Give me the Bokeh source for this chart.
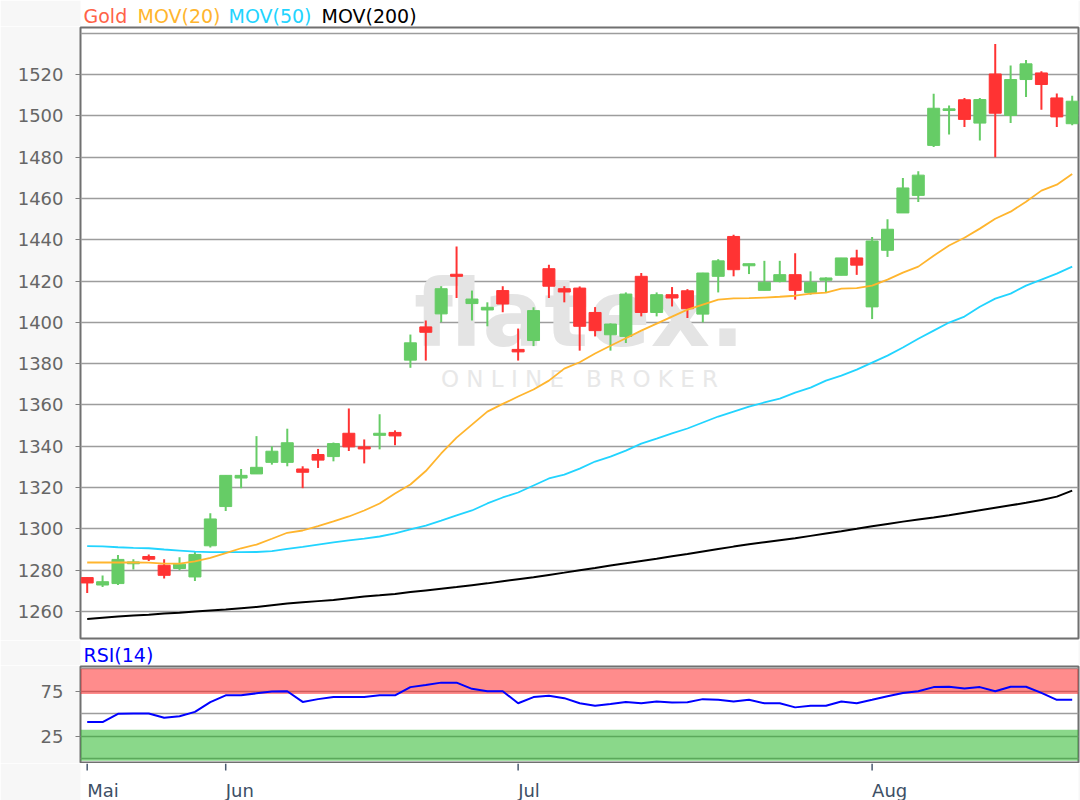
from bokeh.plotting import figure
from bokeh.layouts import column
from bokeh.models import Range1d, FixedTicker, BoxAnnotation, ColumnDataSource
from bokeh.core.properties import value
from bokeh.embed import file_html
from bokeh.resources import INLINE

# ---------------- data ----------------
opens = [1276.4, 1272.8, 1273.5, 1283.1, 1286.6, 1282.4, 1280.8, 1276.7, 1291.8, 1310.8,
         1324.6, 1326.6, 1332.2, 1332.2, 1329.0, 1336.0, 1335.0, 1346.3, 1339.7, 1345.3,
         1346.7, 1381.7, 1397.8, 1404.1, 1423.3, 1409.1, 1406.0, 1415.4, 1386.9, 1391.2,
         1426.0, 1416.3, 1416.6, 1404.8, 1394.0, 1393.2, 1422.3, 1404.8, 1413.4, 1415.3,
         1404.0, 1422.3, 1441.6, 1427.4, 1415.5, 1419.8, 1423.1, 1414.5, 1420.4, 1422.8,
         1431.2, 1407.5, 1434.9, 1453.0, 1461.5, 1485.7, 1502.6, 1507.8, 1496.5, 1520.3,
         1500.2, 1517.6, 1520.8, 1508.7, 1496.2]
highs = [1276.6, 1277.4, 1287.3, 1285.3, 1287.6, 1285.3, 1286.3, 1288.9, 1307.6, 1326.0,
         1329.0, 1344.9, 1340.0, 1348.5, 1330.3, 1338.7, 1341.8, 1358.3, 1343.3, 1355.5,
         1347.7, 1394.1, 1400.9, 1417.5, 1436.8, 1415.4, 1409.7, 1417.5, 1397.0, 1407.3,
         1427.9, 1417.5, 1417.4, 1407.4, 1399.5, 1414.5, 1423.9, 1414.5, 1417.1, 1416.1,
         1424.0, 1430.6, 1442.4, 1428.4, 1429.8, 1429.8, 1433.5, 1424.7, 1421.8, 1431.2,
         1435.2, 1441.4, 1449.9, 1469.9, 1473.2, 1510.7, 1505.0, 1508.6, 1508.6, 1534.8,
         1524.4, 1527.1, 1521.6, 1510.8, 1509.7]
lows = [1268.9, 1271.9, 1272.8, 1280.3, 1284.4, 1275.9, 1280.0, 1274.8, 1291.0, 1308.7,
        1319.7, 1326.6, 1331.1, 1330.3, 1319.7, 1329.5, 1332.7, 1337.7, 1331.7, 1338.5,
        1340.5, 1378.0, 1381.5, 1400.1, 1411.8, 1400.9, 1398.1, 1404.9, 1381.5, 1388.5,
        1411.8, 1409.7, 1386.3, 1393.2, 1386.3, 1390.0, 1402.9, 1402.9, 1407.7, 1402.1,
        1400.0, 1414.5, 1422.3, 1423.4, 1415.5, 1419.4, 1411.0, 1413.4, 1414.6, 1422.8,
        1423.0, 1401.6, 1431.7, 1453.0, 1458.3, 1484.9, 1491.0, 1494.6, 1488.1, 1480.0,
        1496.5, 1509.2, 1503.0, 1494.6, 1495.5]
closes = [1273.8, 1274.4, 1285.2, 1284.0, 1285.3, 1277.5, 1282.9, 1287.6, 1304.8, 1325.9,
          1325.9, 1329.8, 1337.6, 1341.7, 1327.4, 1333.3, 1341.3, 1339.7, 1338.7, 1346.3,
          1345.0, 1390.1, 1395.2, 1416.3, 1422.3, 1411.3, 1407.3, 1408.9, 1385.7, 1405.7,
          1417.5, 1414.7, 1398.1, 1396.0, 1399.2, 1413.7, 1404.8, 1413.4, 1411.8, 1406.6,
          1423.9, 1429.8, 1425.5, 1428.4, 1419.4, 1423.1, 1415.5, 1419.4, 1421.5, 1431.2,
          1427.7, 1439.4, 1445.1, 1465.1, 1471.3, 1503.7, 1503.4, 1498.3, 1507.9, 1501.3,
          1517.6, 1525.2, 1515.2, 1499.5, 1507.1]
ma20 = [1283.7, 1283.7, 1283.7, 1283.7, 1283.6, 1283.2, 1283.2, 1284.2, 1286.0, 1288.2,
        1290.6, 1292.4, 1295.2, 1298.1, 1299.2, 1301.3, 1303.6, 1306.0, 1308.9, 1312.3,
        1317.1, 1321.5, 1328.0, 1336.5, 1344.2, 1350.5, 1356.8, 1360.5, 1364.1, 1367.5,
        1371.8, 1377.6, 1380.7, 1384.9, 1388.7, 1392.3, 1396.0, 1399.4, 1402.8, 1406.2,
        1408.6, 1411.0, 1411.6, 1411.7, 1412.0, 1412.4, 1412.9, 1413.9, 1414.4, 1416.3,
        1416.6, 1417.8, 1420.7, 1424.1, 1427.0, 1432.3, 1437.2, 1441.0, 1445.4, 1450.2,
        1453.6, 1458.4, 1463.8, 1466.7, 1471.9]
ma50 = [1291.6, 1291.5, 1291.1, 1290.8, 1290.6, 1290.0, 1289.5, 1289.0, 1288.7, 1288.7,
        1288.7, 1288.8, 1289.2, 1290.3, 1291.3, 1292.4, 1293.4, 1294.4, 1295.3, 1296.3,
        1297.8, 1299.7, 1301.6, 1304.0, 1306.5, 1308.9, 1312.3, 1315.2, 1317.6, 1321.0,
        1324.4, 1326.3, 1329.2, 1332.6, 1335.0, 1337.9, 1341.3, 1343.7, 1346.2, 1348.6,
        1351.5, 1354.4, 1356.8, 1359.2, 1361.2, 1363.1, 1366.0, 1368.4, 1371.8, 1374.2,
        1377.1, 1380.5, 1383.9, 1387.8, 1392.1, 1396.0, 1399.9, 1402.8, 1407.6, 1411.5,
        1413.9, 1417.8, 1420.7, 1423.6, 1427.0]
ma200 = [1256.4, 1257.0, 1257.6, 1258.0, 1258.4, 1259.0, 1259.4, 1260.0, 1260.5, 1261.0,
         1261.6, 1262.2, 1263.0, 1263.8, 1264.4, 1265.0, 1265.6, 1266.4, 1267.2, 1267.8,
         1268.5, 1269.4, 1270.2, 1271.0, 1271.8, 1272.7, 1273.6, 1274.6, 1275.6, 1276.6,
         1277.7, 1278.8, 1280.0, 1281.0, 1282.2, 1283.3, 1284.4, 1285.5, 1286.7, 1287.8,
         1289.0, 1290.2, 1291.4, 1292.5, 1293.5, 1294.5, 1295.5, 1296.6, 1297.7, 1298.8,
         1300.0, 1301.3, 1302.4, 1303.5, 1304.5, 1305.5, 1306.6, 1307.8, 1309.0, 1310.2,
         1311.4, 1312.6, 1314.0, 1315.6, 1318.5]
rsi14 = [40.6, 40.6, 49.8, 50.1, 50.1, 45.5, 47.1, 52.0, 62.8, 70.4,
         70.4, 72.7, 74.6, 75.0, 63.1, 66.2, 68.5, 68.5, 68.5, 70.4,
         70.4, 79.6, 81.9, 84.6, 84.6, 77.7, 75.0, 75.0, 61.6, 68.5,
         70.0, 67.3, 61.6, 58.9, 60.8, 63.1, 61.6, 63.5, 62.4, 62.8,
         66.2, 65.4, 63.5, 65.4, 61.6, 61.6, 57.0, 58.9, 58.9, 63.5,
         61.6, 65.4, 69.3, 73.1, 75.0, 79.6, 80.0, 78.1, 79.6, 75.0,
         80.0, 80.0, 73.1, 65.4, 65.4]

month_labels = ["Mai", "Jun", "Jul", "Aug"]
month_start_idx = [0, 9, 28, 51]
price_ticks = list(range(1260, 1521, 20))
price_grid = list(range(1260, 1541, 20))
rsi_ticks = [25, 75]
rsi_grid = [0, 25, 50, 75, 100]
rsi_over_band = (72, 100)
rsi_under_band = (-2.5, 32)
legend_items = ["Gold", "MOV(20)", "MOV(50)", "MOV(200)"]

# ---------------- styling / layout ----------------
FONT = "DejaVu Sans"
BG = "#f7f7f7"
UP, DOWN = "#66cc66", "#ff3333"
C_GOLD, C_MA20, C_MA50, C_MA200 = "#ff6347", "#ffb52e", "#22d4ff", "#000000"
legend_colors = [C_GOLD, C_MA20, C_MA50, C_MA200]
legend_x = [83, 137, 228, 321]          # page pixel positions of the header words
W = 1080
ML, MR = 80, 2

idx = list(range(len(opens)))
x_range = Range1d(-0.435, 64.41)


def text_strip(height, xr):
    f = figure(width=W, height=height, x_range=xr, y_range=Range1d(0, height),
               x_axis_location=None, y_axis_location=None,
               output_backend="svg", toolbar_location=None,
               min_border_left=ML, min_border_right=MR, min_border_top=0, min_border_bottom=0)
    f.outline_line_color = None
    f.background_fill_color = BG
    f.background_fill_alpha = 0
    f.border_fill_color = BG
    for g in f.grid:
        g.visible = False
    return f


# ---------------- header with coloured series names ----------------
header = text_strip(26, Range1d(ML, W - MR))
hsrc = ColumnDataSource(dict(x=legend_x, y=[10.7] * 4, t=legend_items, c=legend_colors))
header.text(x="x", y="y", text="t", text_color="c", source=hsrc,
            text_font=value(FONT), text_font_size="19px",
            text_align="left", text_baseline="alphabetic")

# ---------------- main price chart ----------------
main = figure(width=W, height=614, x_range=x_range, y_range=Range1d(1246.9, 1542.8),
              x_axis_location=None, y_axis_location="left",
              output_backend="svg", toolbar_location=None,
              min_border_left=ML, min_border_right=MR, min_border_top=1, min_border_bottom=2)
main.background_fill_color = "white"
main.border_fill_color = BG
main.outline_line_color = "#707070"
main.outline_line_width = 2
for g in main.xgrid:
    g.visible = False
main.ygrid.ticker = FixedTicker(ticks=price_grid)
main.ygrid.grid_line_color = "#9d9d9d"
main.ygrid.grid_line_width = 1.6
ax = main.yaxis[0]
ax.ticker = FixedTicker(ticks=price_ticks)
ax.axis_line_color = None
ax.major_tick_line_color = "#808080"
ax.major_tick_out = 5
ax.major_tick_in = 0
ax.minor_tick_line_color = None
ax.major_label_standoff = 12
ax.major_label_text_font = FONT
ax.major_label_text_font_size = "18px"
ax.major_label_text_color = "#666666"

# watermark
xr_mid = (x_range.start + x_range.end) / 2
yr = main.y_range
wm_logo_y = yr.start + 0.53 * (yr.end - yr.start)
wm_sub_y = yr.start + 0.425 * (yr.end - yr.start)
NB = "\u00a0"
wm_sub = (NB * 3).join(NB.join(w) for w in ["ONLINE", "BROKER"])
main.text(x=[xr_mid], y=[wm_logo_y], text=["flatex."], text_color="#e4e4e4",
          text_font=value(FONT), text_font_size="92px", text_font_style="bold",
          text_align="center", text_baseline="middle")
main.text(x=[xr_mid], y=[wm_sub_y], text=[wm_sub], text_color="#e8e8e8",
          text_font=value(FONT), text_font_size="23px",
          text_align="center", text_baseline="middle")

colors = [UP if c >= o else DOWN for o, c in zip(opens, closes)]
src = ColumnDataSource(dict(
    x=idx, high=highs, low=lows,
    top=[max(o, c) for o, c in zip(opens, closes)],
    bottom=[min(o, c) for o, c in zip(opens, closes)],
    color=colors))
main.segment(x0="x", y0="low", x1="x", y1="high", line_color="color", line_width=2, source=src)
main.vbar(x="x", width=0.78, top="top", bottom="bottom", fill_color="color",
          line_color="color", line_width=1, source=src)
main.line(idx, ma200, line_color=C_MA200, line_width=2)
main.line(idx, ma50, line_color=C_MA50, line_width=1.8)
main.line(idx, ma20, line_color=C_MA20, line_width=1.8)

# ---------------- RSI header ----------------
rsih = text_strip(25, Range1d(ML, W - MR))
rsih.text(x=[83], y=[10.5], text=["RSI(14)"], text_color="#0000ff",
          text_font=value(FONT), text_font_size="19px",
          text_align="left", text_baseline="alphabetic")

# ---------------- RSI panel ----------------
rsi = figure(width=W, height=98, x_range=x_range, y_range=Range1d(-4.5, 102.6),
             x_axis_location=None, y_axis_location="left",
             output_backend="svg", toolbar_location=None,
             min_border_left=ML, min_border_right=MR, min_border_top=1, min_border_bottom=1)
rsi.background_fill_color = "white"
rsi.border_fill_color = BG
rsi.outline_line_color = "#707070"
rsi.outline_line_width = 2
for g in rsi.xgrid:
    g.visible = False
rsi.ygrid.ticker = FixedTicker(ticks=rsi_grid)
rsi.ygrid.grid_line_color = "#9d9d9d"
rsi.ygrid.grid_line_width = 1.6
rsi.add_layout(BoxAnnotation(bottom=rsi_over_band[0], top=rsi_over_band[1], fill_color="#ff1a1a",
                             fill_alpha=0.5, line_color=None, level="underlay"))
rsi.add_layout(BoxAnnotation(bottom=rsi_under_band[0], top=rsi_under_band[1], fill_color="#1fb51f",
                             fill_alpha=0.52, line_color=None, level="underlay"))
rsi.line(idx, rsi14, line_color="#0000ff", line_width=2)

ry = rsi.yaxis[0]
ry.ticker = FixedTicker(ticks=rsi_ticks)
ry.axis_line_color = None
ry.major_tick_line_color = "#808080"
ry.major_tick_out = 5
ry.major_tick_in = 0
ry.minor_tick_line_color = None
ry.major_label_standoff = 12
ry.major_label_text_font = FONT
ry.major_label_text_font_size = "18px"
ry.major_label_text_color = "#666666"

# ---------------- month ticks + labels (left aligned at month start) ----------------
XL_H = 37
xlab = text_strip(XL_H, x_range)
xlab.segment(x0=month_start_idx, y0=[XL_H] * len(month_start_idx),
             x1=month_start_idx, y1=[XL_H - 7] * len(month_start_idx),
             line_color="#4a5a70", line_width=1.5)
xlab.text(x=month_start_idx, y=[10] * len(month_labels), text=month_labels,
          text_color="#3d5066", text_font=value(FONT), text_font_size="18px",
          text_align="left", text_baseline="alphabetic")

layout = column(header, main, rsih, rsi, xlab)
open("out.html", "w").write(file_html(layout, INLINE))
